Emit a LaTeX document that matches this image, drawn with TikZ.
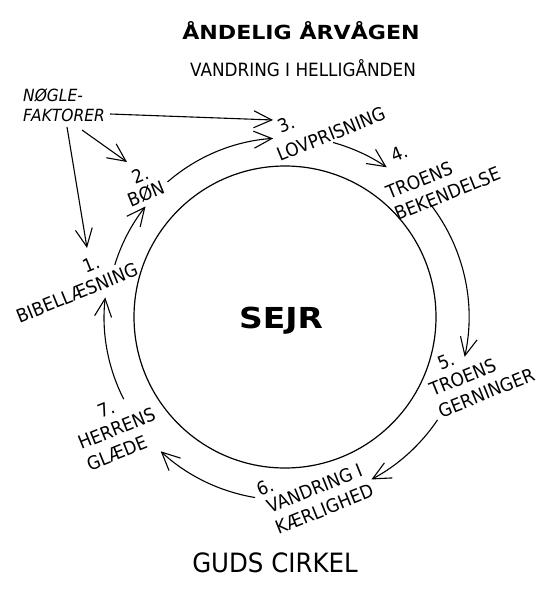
\documentclass[tikz,border=0pt]{standalone}
\usepackage{fontspec}
\setmainfont{DejaVu Sans}[FakeStretch=0.92]
\newfontfamily\boldfnt{DejaVu Sans}[FakeStretch=1.14]
\usetikzlibrary{arrows.meta}
\tikzset{
  lbl/.style={font=\fontsize{18.5pt}{23pt}\selectfont, rotate=22, align=left, inner sep=0pt},
  num/.style={font=\fontsize{18.5pt}{23pt}\selectfont, rotate=22, inner sep=0pt},
  key/.style={font=\fontsize{16.8pt}{20pt}\selectfont\itshape, align=left, inner sep=0pt},
  arr/.style={line width=1.1pt, -{Straight Barb[length=18pt,width=17pt,line width=1.1pt]}},
  ring/.style={circle, draw, line width=1.2pt, minimum size=302pt, inner sep=0pt}
}
\begin{document}
\begin{tikzpicture}[x=1pt,y=1pt]
\useasboundingbox (0,0) rectangle (551,-610);
% titles
\node[anchor=base, inner sep=0pt, font=\boldfnt\bfseries\fontsize{19.4pt}{22pt}\selectfont] (title) at (301,-40) {ÅNDELIG ÅRVÅGEN};
\node[anchor=base, inner sep=0pt, font=\fontsize{18.3pt}{21pt}\selectfont] (sub) at (303,-77) {VANDRING I HELLIGÅNDEN};
\node[anchor=base, inner sep=0pt, font=\fontsize{26.6pt}{30pt}\selectfont] (foot) at (275,-572) {GUDS CIRKEL};
% centre
\coordinate (C) at (285,-317);
\node[ring] (circ) at (C) {};
\node[anchor=base, inner sep=0pt, font=\boldfnt\bfseries\fontsize{28.9pt}{32pt}\selectfont] (sejr) at (281,-328) {SEJR};
% key factors
\node[key] (key) at (64,-105) {NØGLE-\\FAKTORER};
% numbers
\node[num] (n1) at (91,-264) {1.};
\node[num] (n2) at (140,-175) {2.};
\node[num] (n3) at (286,-124) {3.};
\node[num] (n4) at (399,-153) {4.};
\node[num] (n5) at (446,-361) {5.};
\node[num] (n6) at (265,-487) {6.};
\node[num] (n7) at (106,-409) {7.};
% labels
\node[lbl] (l1) at (77,-293) {BIBELLÆSNING};
\node[lbl] (l2) at (146,-194) {BØN};
\node[lbl] (l3) at (331,-134) {LOVPRISNING};
\node[lbl] (l4) at (443,-183) {TROENS\\BEKENDELSE};
\node[lbl] (l5) at (482,-382) {TROENS\\GERNINGER};
\node[lbl] (l6) at (320,-498.5) {VANDRING I\\KÆRLIGHED};
\node[lbl] (l7) at (121,-439) {HERRENS\\GLÆDE};
% arrows from key factors
\coordinate (k3s) at (110,-114);
\coordinate (k3e) at (273,-120);
\coordinate (k2s) at (82,-130);
\coordinate (k2e) at (127,-162);
\coordinate (k1s) at (67,-127);
\coordinate (k1e) at (87,-248);
\draw[arr] (k3s) -- (k3e);
\draw[arr] (k2s) -- (k2e);
\draw[arr] (k1s) -- (k1e);
% cycle arcs
\coordinate (a71) at ([shift={(-153:181pt)}]C);
\coordinate (a12) at ([shift={(163:178pt)}]C);
\coordinate (a23) at ([shift={(131:179pt)}]C);
\coordinate (a34) at ([shift={(74.6:181pt)}]C);
\coordinate (a45) at ([shift={(37.7:184pt)}]C);
\coordinate (a56) at ([shift={(-34:184pt)}]C);
\coordinate (a67) at ([shift={(-99.4:183pt)}]C);
\draw[arr] (a71) arc[start angle=-153, end angle=-186.4, radius=180pt];
\draw[arr] (a12) arc[start angle=163, end angle=141.6, radius=178pt];
\draw[arr] (a23) arc[start angle=131, end angle=93.8, radius=179pt];
\draw[arr] (a34) arc[start angle=74.6, end angle=55.8, radius=181pt];
\draw[arr] (a45) arc[start angle=37.7, end angle=-12.5, radius=184pt];
\draw[arr] (a56) arc[start angle=-34, end angle=-62, radius=184pt];
\draw[arr] (a67) arc[start angle=-99.4, end angle=-132.8, radius=183pt];
\end{tikzpicture}
\end{document}
